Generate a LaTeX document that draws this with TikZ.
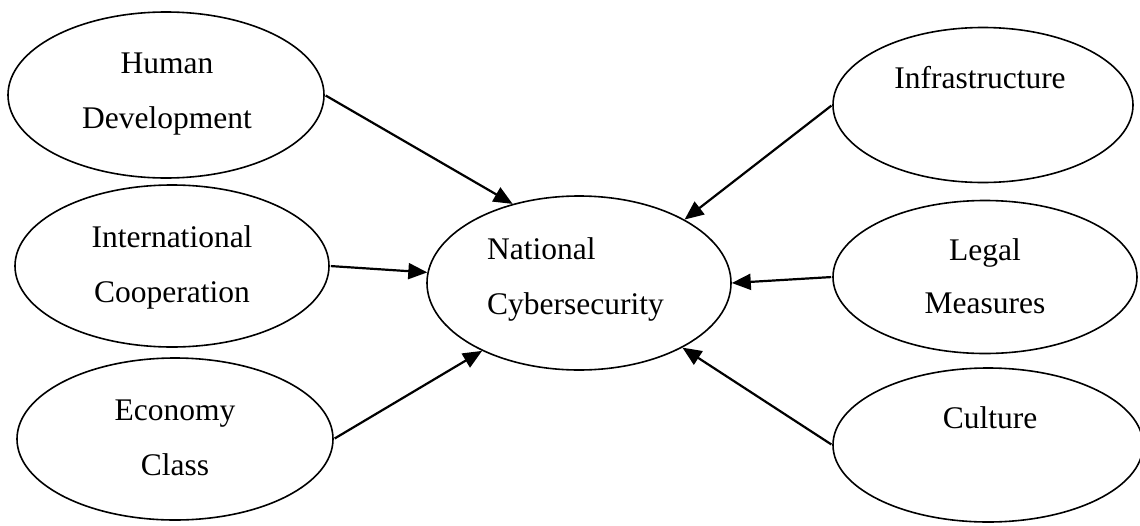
\documentclass[tikz,border=0pt]{standalone}
\usepackage{fontspec}
\setmainfont{Liberation Serif}
\usetikzlibrary{shapes.geometric,arrows.meta}
\begin{document}
\begin{tikzpicture}[x=1pt,y=-1pt,
  oval/.style={draw=black,line width=1.6pt,ellipse,inner sep=0pt},
  lbl/.style={anchor=base,inner sep=0pt,font=\fontsize{31.5}{36}\selectfont},
  lblw/.style={anchor=base west,inner sep=0pt,font=\fontsize{31.5}{36}\selectfont},
  arr/.style={line width=2.2pt,-{Triangle[length=19pt,width=16pt]},shorten <=1pt}]
\useasboundingbox (0,0) rectangle (1140,525);
% ellipses
\node[oval,minimum width=316pt,minimum height=166pt] (hd) at (166,95) {};
\node[oval,minimum width=314pt,minimum height=162pt] (ic) at (172,266) {};
\node[oval,minimum width=316pt,minimum height=162pt] (ec) at (175,439) {};
\node[oval,minimum width=304pt,minimum height=174pt] (nc) at (579,283) {};
\node[oval,minimum width=300pt,minimum height=155pt] (inf) at (983,105) {};
\node[oval,minimum width=304pt,minimum height=153pt] (lm) at (985,277) {};
\node[oval,minimum width=310pt,minimum height=154pt] (cu) at (988,445) {};
% texts
\node[lbl] (t1) at (167,73) {Human};
\node[lbl] (t2) at (167,128) {Development};
\node[lbl] (t3) at (172,247) {International};
\node[lbl] (t4) at (172,302) {Cooperation};
\node[lbl] (t5) at (175,420) {Economy};
\node[lbl] (t6) at (175,475) {Class};
\node[lblw] (t7) at (487,259) {National};
\node[lblw] (t8) at (487,314) {Cybersecurity};
\node[lbl] (t9) at (980,88) {Infrastructure};
\node[lbl] (t10) at (985,260) {Legal};
\node[lbl] (t11) at (985,313) {Measures};
\node[lbl] (t12) at (990,428) {Culture};
% arrows
\draw[arr] (hd.east) -- (nc.130);
\draw[arr] (ic.east) -- (nc.176);
\draw[arr] (ec.east) -- (nc.215);
\draw[arr] (inf.west) -- (nc.31);
\draw[arr] (lm.west) -- (nc.0);
\draw[arr] (cu.west) -- (nc.-32);
\end{tikzpicture}
\end{document}
